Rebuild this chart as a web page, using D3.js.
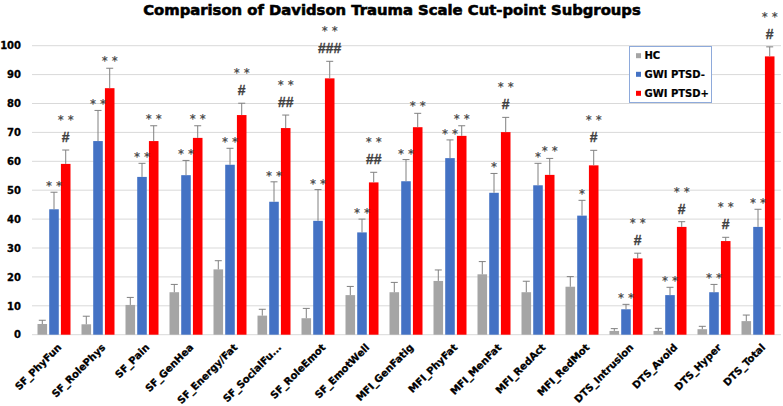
<!DOCTYPE html>
<html>
<head>
<meta charset="utf-8">
<script src="https://cdn.jsdelivr.net/npm/d3@7"></script>
<style>
  html, body { margin: 0; padding: 0; background: #fff; }
  svg { display: block; }
</style>
</head>
<body>
<svg id="chart" width="783" height="406"></svg>
<script>
const categories = ["SF_PhyFun","SF_RolePhys","SF_Pain","SF_GenHea","SF_Energy/Fat","SF_SocialFu...","SF_RoleEmot","SF_EmotWell","MFI_GenFatig","MFI_PhyFat","MFI_MenFat","MFI_RedAct","MFI_RedMot","DTS_Intrusion","DTS_Avoid","DTS_Hyper","DTS_Total"];
const seriesNames = ["HC","GWI PTSD-","GWI PTSD+"];
const hcValues   = [3.7,3.6,10.3,14.7,22.6,6.6,5.7,13.7,14.7,18.6,20.9,14.7,16.6,1.3,1.3,1.9,4.7];
const hcErrors   = [1.3,2.8,2.6,2.7,3.0,2.2,3.4,3.0,3.4,3.8,4.4,3.8,3.5,0.8,0.9,1.0,2.1];
const negValues  = [43.4,67.0,54.6,55.2,58.8,46.0,39.4,35.4,53.1,61.1,49.1,51.7,41.2,8.8,13.7,14.7,37.3];
const negErrors  = [5.9,10.6,4.7,5.1,5.7,6.9,10.8,4.6,7.5,6.3,6.7,7.6,5.3,1.7,2.7,2.7,6.1];
const posValues  = [59.1,85.3,67.0,68.1,76.0,71.5,88.7,52.7,71.8,68.8,70.1,55.3,58.6,26.4,37.3,32.4,96.3];
const posErrors  = [4.8,6.9,5.3,4.2,4.1,4.5,5.9,3.5,4.8,3.5,5.1,5.7,5.2,1.8,1.8,1.3,3.3];
const negStars   = ["**","**","**","**","**","**","**","**","**","**","*","*","*","**","**","**","**"];
const posStars   = ["**","**","**","**","**","**","**","**","**","**","**","**","**","**","**","**","**"];
const posHashes  = ["#","","","","#","##","###","##","","","#","","#","#","#","#","#"];
const yTicks     = [0,10,20,30,40,50,60,70,80,90,100];
const colors     = ["#a5a5a5","#4472c4","#ff0000"];
const title      = "Comparison of Davidson Trauma Scale Cut-point Subgroups";

const valuesBySeries = [hcValues, negValues, posValues];
const errorsBySeries = [hcErrors, negErrors, posErrors];

const svg = d3.select("#chart");
const FONT = "'DejaVu Sans', sans-serif";

const x0 = d3.scaleBand().domain(categories).range([32, 780]).paddingInner(0).paddingOuter(0);
const x1 = d3.scaleBand().domain(seriesNames).range([-16.5, 16.5]).paddingInner(2/11).paddingOuter(0);
const y = d3.scaleLinear().domain([0, 100]).range([334.7, 45.7]);

// title
svg.append("text")
  .attr("x", 392).attr("y", 15)
  .attr("text-anchor", "middle")
  .attr("font-family", FONT).attr("font-weight", "bold").attr("font-size", 14.8)
  .attr("fill", "#000").attr("stroke", "#000").attr("stroke-width", 0.6)
  .text(title);

// gridlines
svg.append("g").selectAll("line").data(yTicks).join("line")
  .attr("x1", 32).attr("x2", 781)
  .attr("y1", d => y(d)).attr("y2", d => y(d))
  .attr("stroke", "#d9d9d9").attr("stroke-width", 1);

// y axis labels
const yAxis = d3.axisLeft(y).tickValues(yTicks).tickSize(0).tickPadding(0);
const yg = svg.append("g").attr("transform", "translate(21,0)").call(yAxis);
yg.select(".domain").remove();
yg.selectAll("text").attr("font-family", FONT).attr("font-weight", "bold").attr("font-size", 10)
  .attr("fill", "#000").attr("stroke", "#000").attr("stroke-width", 0.3);

// bars
const groups = svg.append("g").selectAll("g").data(categories).join("g")
  .attr("transform", d => `translate(${x0(d) + x0.bandwidth() / 2},0)`);

seriesNames.forEach((s, si) => {
  groups.append("rect")
    .attr("x", x1(s))
    .attr("width", x1.bandwidth())
    .attr("y", (d, i) => y(valuesBySeries[si][i]))
    .attr("height", (d, i) => y(0) - y(valuesBySeries[si][i]))
    .attr("fill", colors[si]);
  const cx = x1(s) + x1.bandwidth() / 2;
  groups.append("line")
    .attr("x1", cx).attr("x2", cx)
    .attr("y1", (d, i) => y(valuesBySeries[si][i]))
    .attr("y2", (d, i) => y(valuesBySeries[si][i] + errorsBySeries[si][i]))
    .attr("stroke", "#808080").attr("stroke-width", 1);
  groups.append("line")
    .attr("x1", cx - 3.5).attr("x2", cx + 3.5)
    .attr("y1", (d, i) => y(valuesBySeries[si][i] + errorsBySeries[si][i]))
    .attr("y2", (d, i) => y(valuesBySeries[si][i] + errorsBySeries[si][i]))
    .attr("stroke", "#808080").attr("stroke-width", 1);
});

// annotations
const cxNeg = x1("GWI PTSD-") + x1.bandwidth() / 2;
const cxPos = x1("GWI PTSD+") + x1.bandwidth() / 2;
function starText(s) { return s.split("").join(" "); }

groups.append("text")
  .attr("x", cxNeg)
  .attr("y", (d, i) => y(negValues[i] + negErrors[i]) - 9 + 7)
  .attr("text-anchor", "middle")
  .attr("font-family", FONT).attr("font-weight", "bold").attr("font-size", 11.5)
  .attr("fill", "#505050")
  .text((d, i) => starText(negStars[i]));

groups.append("text")
  .attr("x", cxPos)
  .attr("y", (d, i) => y(posValues[i] + posErrors[i]) - 13 + 5)
  .attr("text-anchor", "middle")
  .attr("font-family", "'Liberation Sans', Arial, sans-serif").attr("font-weight", "bold").attr("font-size", 14)
  .attr("fill", "#404040").attr("stroke", "#404040").attr("stroke-width", 0.3)
  .text((d, i) => posHashes[i]);

groups.append("text")
  .attr("x", cxPos)
  .attr("y", (d, i) => y(posValues[i] + posErrors[i]) - (posHashes[i] ? 33 : 10) + 7)
  .attr("text-anchor", "middle")
  .attr("font-family", FONT).attr("font-weight", "bold").attr("font-size", 11.5)
  .attr("fill", "#505050")
  .text((d, i) => starText(posStars[i]));

// x labels
svg.append("g").selectAll("text").data(categories).join("text")
  .attr("transform", d => `translate(${x0(d) + x0.bandwidth() / 2 + 3},343) rotate(-45)`)
  .attr("text-anchor", "end")
  .attr("dy", "0.71em")
  .attr("font-family", FONT).attr("font-weight", "bold").attr("font-size", 10)
  .attr("fill", "#000").attr("stroke", "#000").attr("stroke-width", 0.3)
  .text(d => d);

// legend
const lg = svg.append("g");
lg.append("rect").attr("x", 629.5).attr("y", 46.5).attr("width", 82).attr("height", 56)
  .attr("fill", "#fff").attr("stroke", "#8eaadb").attr("stroke-width", 1);
const legendRows = [55.7, 74.3, 93.3];
seriesNames.forEach((s, si) => {
  lg.append("rect").attr("x", 636).attr("y", legendRows[si] - 2.5).attr("width", 5).attr("height", 5).attr("fill", colors[si]);
  lg.append("text").attr("x", 644.5).attr("y", legendRows[si] + 3.7)
    .attr("font-family", FONT).attr("font-weight", "bold").attr("font-size", 10)
    .attr("fill", "#000").attr("stroke", "#000").attr("stroke-width", 0.2).text(s);
});
</script>
</body>
</html>
